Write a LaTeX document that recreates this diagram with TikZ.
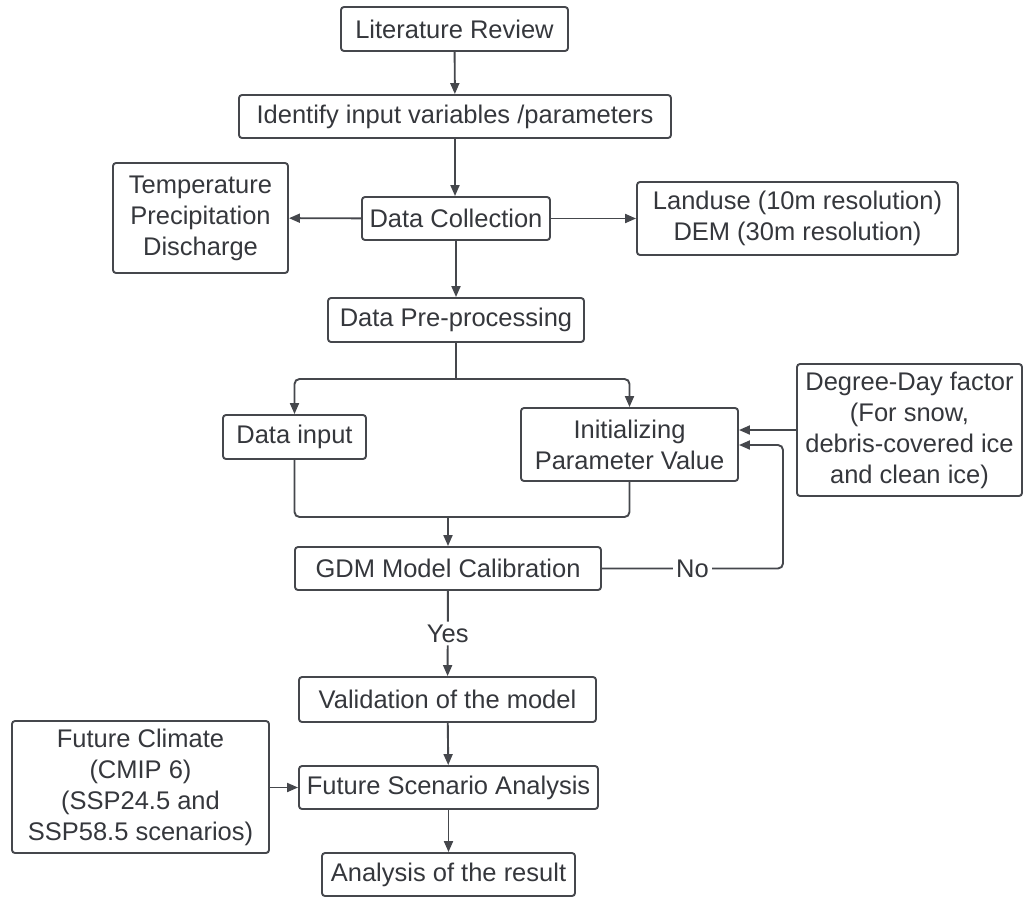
\documentclass[tikz,border=0pt]{standalone}
\usepackage{fontspec}
\setmainfont{Liberation Sans}
\usetikzlibrary{arrows.meta}
\definecolor{ink}{HTML}{35373C}
\definecolor{edge}{HTML}{45474C}
\tikzset{
  box/.style={draw=edge, line width=1.9pt, rounded corners=3pt, inner sep=0pt,
    align=center, text=ink, font=\fontsize{25.5}{31}\selectfont},
  arr/.style={draw=edge, line width=1.9pt, rounded corners=5pt,
    -{Triangle[length=11pt,width=9pt]}},
  ln/.style={draw=edge, line width=1.9pt, rounded corners=5pt},
  lab/.style={fill=white, text=ink, inner sep=3pt, font=\fontsize{25.5}{31}\selectfont}
}
\begin{document}
\begin{tikzpicture}[x=1pt,y=-1pt]
\useasboundingbox (0,0) rectangle (1024,897);
% nodes
\node[box, minimum width=227pt, minimum height=44pt] (lit) at (454.5,29) {Literature Review};
\node[box, minimum width=432pt, minimum height=43pt] (ident) at (455,116.5) {Identify input variables /parameters};
\node[box, minimum width=188pt, minimum height=43pt] (dc) at (456,218.5) {Data Collection};
\node[box, minimum width=175pt, minimum height=110pt] (temp) at (200.5,218) {Temperature\\Precipitation\\Discharge};
\node[box, minimum width=321pt, minimum height=73pt] (land) at (797.5,218.5) {Landuse (10m resolution)\\DEM (30m resolution)};
\node[box, minimum width=256pt, minimum height=44pt] (pre) at (456,320) {Data Pre-processing};
\node[box, minimum width=143pt, minimum height=44pt] (din) at (294.5,437) {Data input};
\node[box, minimum width=217pt, minimum height=73pt] (init) at (629.5,444.5) {Initializing\\Parameter Value};
\node[box, minimum width=225pt, minimum height=132pt] (deg) at (909.5,430) {Degree-Day factor\\(For snow,\\debris-covered ice\\and clean ice)};
\node[box, minimum width=306pt, minimum height=43pt] (gdm) at (448,568.5) {GDM Model Calibration};
\node[box, minimum width=297pt, minimum height=45pt] (val) at (447.5,699.5) {Validation of the model};
\node[box, minimum width=299pt, minimum height=43pt] (fsa) at (448.5,787.5) {Future Scenario Analysis};
\node[box, minimum width=257pt, minimum height=132pt] (fut) at (140.5,787) {Future Climate\\(CMIP 6)\\(SSP24.5 and\\SSP58.5 scenarios)};
\node[box, minimum width=253pt, minimum height=43pt] (res) at (448.5,874.5) {Analysis of the result};
% junction coordinates
\coordinate (split) at (456,379);
\coordinate (merge) at (448,517);
\coordinate (loop) at (783,568.5);
% connectors
\draw[arr] (lit) -- (ident);
\draw[arr] (ident.south) -- (ident.south |- dc.north);
\draw[arr] (dc) -- (temp);
\draw[arr] (dc) -- (land);
\draw[arr] (dc) -- (pre);
\draw[ln] (pre.south) -- (split);
\draw[arr] (split) -| (din.north);
\draw[arr] (split) -| (init.north);
\draw[ln] (din.south) |- (merge);
\draw[ln] (init.south) |- (merge);
\draw[arr] (merge) -- (gdm.north);
\draw[arr] (deg.west) -- (init.east |- deg.west);
\draw[arr] (gdm.east) -- node[lab]{No} (loop) -- (loop |- 0,445) -- (init.east |- 0,445);
\draw[arr] (gdm) -- node[lab]{Yes} (val);
\draw[arr] (val) -- (fsa);
\draw[arr] (fut.east |- fsa) -- (fsa);
\draw[arr] (fsa) -- (res);
\end{tikzpicture}
\end{document}
